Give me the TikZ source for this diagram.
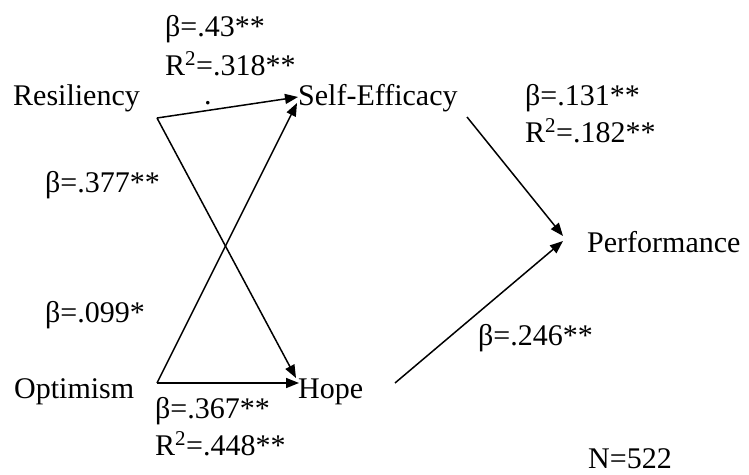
\documentclass[tikz,border=0pt]{standalone}
\usepackage{fontspec}
\setmainfont{Liberation Serif}
\usetikzlibrary{arrows.meta}
\begin{document}
\begin{tikzpicture}[x=1pt,y=-1pt,
  lbl/.style={anchor=base west,inner sep=0pt,font=\fontsize{30}{34}\selectfont},
  conn/.style={line width=1.5pt,-{Triangle[length=13pt,width=10pt]}},
  plain/.style={line width=1.5pt}]
\useasboundingbox (0,0) rectangle (749,474);
% labels / variables
\node[lbl] (res) at (13,105) {Resiliency};
\node[lbl] (opt) at (14,398) {Optimism};
\node[lbl] (se) at (298,105) {Self-Efficacy};
\node[lbl] (hope) at (298,398) {Hope};
\node[lbl] (perf) at (587,252) {Performance};
\node[lbl] (b1) at (165,36) {β=.43**};
\node[lbl] (r1) at (165,75) {R\textsuperscript{2}=.318**};
\node[lbl] (dot) at (204,104) {.};
\node[lbl] (b2) at (45,192) {β=.377**};
\node[lbl] (b3) at (45,322) {β=.099*};
\node[lbl] (b4) at (155,418) {β=.367**};
\node[lbl] (r4) at (155,455) {R\textsuperscript{2}=.448**};
\node[lbl] (b5) at (525,105) {β=.131**};
\node[lbl] (r5) at (525,142) {R\textsuperscript{2}=.182**};
\node[lbl] (b6) at (478,345) {β=.246**};
\node[lbl] (n) at (588,468) {N=522};
% connector endpoints
\coordinate (resout) at (157,118);
\coordinate (optout) at (157,383);
\coordinate (sein1) at (298,97);
\coordinate (sein2) at (297,103);
\coordinate (hopein1) at (296,378);
\coordinate (hopein2) at (299,383);
\coordinate (seout) at (467,117);
\coordinate (hopeout) at (395,383);
\coordinate (perfin1) at (563,236);
\coordinate (perfin2) at (563,241);
% connectors
\draw[conn] (resout) -- (sein1);
\draw[conn] (resout) -- (hopein1);
\draw[conn] (optout) -- (sein2);
\draw[conn] (optout) -- (hopein2);
\draw[conn] (seout) -- (perfin1);
\draw[conn] (hopeout) -- (perfin2);
\end{tikzpicture}
\end{document}
